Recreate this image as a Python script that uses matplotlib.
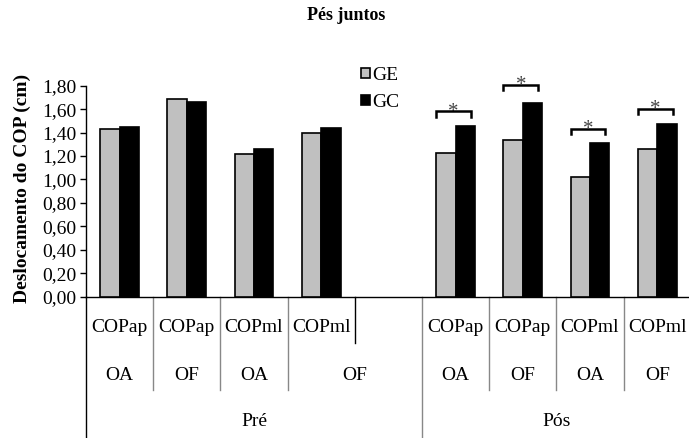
import numpy as np
import matplotlib
matplotlib.use('Agg')
import matplotlib.pyplot as plt
from matplotlib.patches import Patch
from matplotlib.transforms import blended_transform_factory
from matplotlib.ticker import FuncFormatter

plt.rcParams['font.family'] = ['Liberation Serif', 'DejaVu Serif']

# ── dados ─────────────────────────────────────────────────
medidas = ['COPap', 'COPap', 'COPml', 'COPml']
condicoes = ['OA', 'OF', 'OA', 'OF']
momentos = ['Pré', 'Pós']

pre_ge = [1.43, 1.69, 1.22, 1.40]
pre_gc = [1.45, 1.66, 1.26, 1.44]
pos_ge = [1.23, 1.34, 1.02, 1.26]
pos_gc = [1.46, 1.65, 1.31, 1.47]

# altura dos colchetes de significância (Pós)
sig_y = [1.58, 1.81, 1.43, 1.60]

COR_GE = '#C0C0C0'
COR_GC = '#000000'

W, H = 689, 438
fig = plt.figure(figsize=(W / 100, H / 100), dpi=100)
x0, x1 = 86, 690.8
y_base, y_top = 296.7, 85.7
ax = fig.add_axes([x0 / W, 1 - y_base / H, (x1 - x0) / W, (y_base - y_top) / H])

# posições: 4 Pré, 1 vazio (pertence a Pré/OF), 4 Pós
pos_pre = np.arange(4)
pos_pos = np.arange(5, 9)
bw = 0.29

for xs, ge, gc in [(pos_pre, pre_ge, pre_gc), (pos_pos, pos_ge, pos_gc)]:
    ax.bar(xs - bw / 2, ge, bw, color=COR_GE, edgecolor='black', lw=1.2, zorder=3)
    ax.bar(xs + bw / 2, gc, bw, color=COR_GC, edgecolor='black', lw=1.2, zorder=3)

# colchetes com asterisco
leg = 0.045
for x, y in zip(pos_pos, sig_y):
    xa, xb = x - bw, x + bw - 0.06
    ax.plot([xa, xa, xb, xb], [y - leg, y, y, y - leg], color='black',
            lw=1.8, clip_on=False, zorder=4, solid_joinstyle='miter')
    ax.text((xa + xb) / 2, y - 0.005, '*', ha='center', va='center',
            fontsize=15, color='#444444', clip_on=False)

ax.set_xlim(-0.5, 8.5)
ax.set_ylim(0, 1.8)
ax.set_yticks(np.arange(0, 1.81, 0.2))
ax.yaxis.set_major_formatter(FuncFormatter(lambda v, p: f'{v:.2f}'.replace('.', ',')))
ax.tick_params(axis='y', direction='out', length=4, width=1, labelsize=14, pad=3)
ax.set_xticks([])
for s in ['top', 'right']:
    ax.spines[s].set_visible(False)
ax.spines['left'].set_linewidth(1)
ax.spines['bottom'].set_linewidth(1)

# ── eixo de categorias em três níveis ────────────────────
tr = blended_transform_factory(ax.transData, fig.transFigure)
fy = lambda py: 1 - py / H

def vline(x, py_end, color='#888888'):
    ax.plot([x, x], [fy(y_base), fy(py_end)], color=color, lw=1,
            transform=tr, clip_on=False)

vline(-0.5, H, color='black')
for b in [0.5, 1.5, 2.5, 5.5, 6.5, 7.5]:
    vline(b, 390)
vline(3.5, 343, color='black')
vline(4.5, H)

row1, row2, row3 = 328, 375, 421.5
for xs in (pos_pre, pos_pos):
    for x, m, c in zip(xs, medidas, condicoes):
        ax.text(x, fy(row1), m, ha='center', va='center', fontsize=14, transform=tr)
        xc = 3.5 if (xs is pos_pre and x == 3) else x
        ax.text(xc, fy(row2), c, ha='center', va='center', fontsize=14, transform=tr)
ax.text(2.0, fy(row3), momentos[0], ha='center', va='center', fontsize=14, transform=tr)
ax.text(6.5, fy(row3), momentos[1], ha='center', va='center', fontsize=14, transform=tr)

# ── título, rótulo e legenda ─────────────────────────────
fig.text(346 / W, fy(16), 'Pés juntos', ha='center', va='center',
         fontsize=13, fontweight='bold')
fig.text(22 / W, fy(188), 'Deslocamento do COP (cm)', ha='center', va='center',
         rotation=90, fontsize=14, fontweight='bold')

handles = [Patch(facecolor=COR_GE, edgecolor='black', lw=1.2, label='GE'),
           Patch(facecolor=COR_GC, edgecolor='black', lw=1.2, label='GC')]
ax.legend(handles=handles, loc='upper left', bbox_to_anchor=(361 / W, fy(67)),
          bbox_transform=fig.transFigure, frameon=False, fontsize=14,
          handlelength=0.45, handleheight=0.45, handletextpad=0.15,
          labelspacing=0.5, borderpad=0, borderaxespad=0)

fig.savefig('out.png', dpi=100)
